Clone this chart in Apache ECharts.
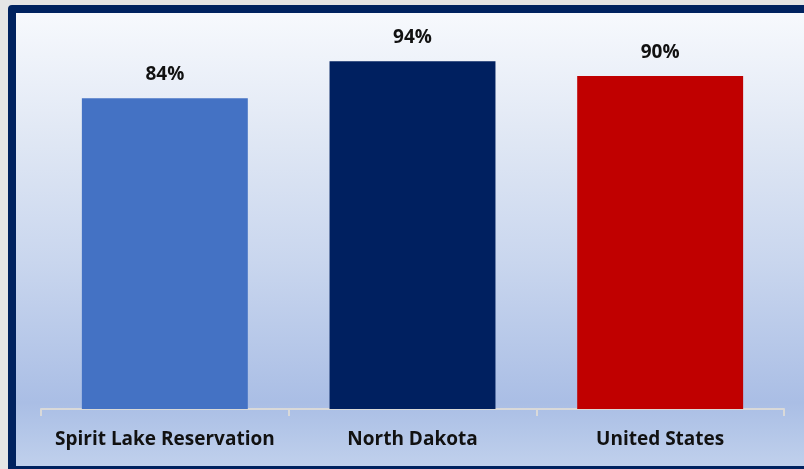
<!DOCTYPE html>
<html>
<head>
<meta charset="utf-8">
<script src="https://cdn.jsdelivr.net/npm/echarts@6/dist/echarts.min.js"></script>
<style>
  html, body {
    margin: 0;
    padding: 0;
    width: 804px;
    height: 469px;
    overflow: hidden;
    background: #e5e5e5;
  }
  #frame {
    position: absolute;
    left: 8px;
    top: 5px;
    width: 820px;
    height: 453px;
    border: 8px solid #00225f;
    border-radius: 4px 0 0 0;
    background: linear-gradient(to bottom,
      #f7f9fd 0%,
      #e2e9f5 25%,
      #c9d6ee 55%,
      #aabee5 86%,
      #b3c6e8 92%,
      #c0d0ec 100%);
  }
  #main {
    position: absolute;
    left: 0;
    top: 0;
    width: 804px;
    height: 469px;
  }
</style>
</head>
<body>
<div id="frame"></div>
<div id="main"></div>
<script>
var categories = ["Spirit Lake Reservation", "North Dakota", "United States"];
var values = [84, 94, 90];
var barColors = ["#4472c4", "#002060", "#c00000"];

var myChart = echarts.init(document.getElementById("main"));

var option = {
  backgroundColor: "transparent",
  animation: false,
  grid: {
    left: 41,
    right: 20,
    top: 39,
    bottom: 60,
    containLabel: false,
  },
  xAxis: {
    type: "category",
    data: categories,
    axisLine: {
      lineStyle: { color: "#d9d9d9", width: 2 },
    },
    axisTick: {
      show: true,
      length: 7,
      interval: 0,
      lineStyle: { color: "#d9d9d9", width: 2 },
    },
    axisLabel: {
      interval: 0,
      color: "#111",
      fontFamily: "Open Sans",
      fontWeight: "bold",
      fontSize: 19,
      margin: 21,
    },
  },
  yAxis: {
    type: "value",
    min: 0,
    max: 100,
    show: false,
    splitLine: { show: false },
  },
  series: [
    {
      type: "bar",
      barWidth: "67%",
      data: values.map(function (v, i) {
        return { value: v, itemStyle: { color: barColors[i] } };
      }),
      label: {
        show: true,
        position: "top",
        distance: 14,
        formatter: "{c}%",
        color: "#111",
        fontFamily: "Open Sans",
        fontWeight: "bold",
        fontSize: 19,
      },
    },
  ],
};
myChart.setOption(option);
</script>
</body>
</html>
